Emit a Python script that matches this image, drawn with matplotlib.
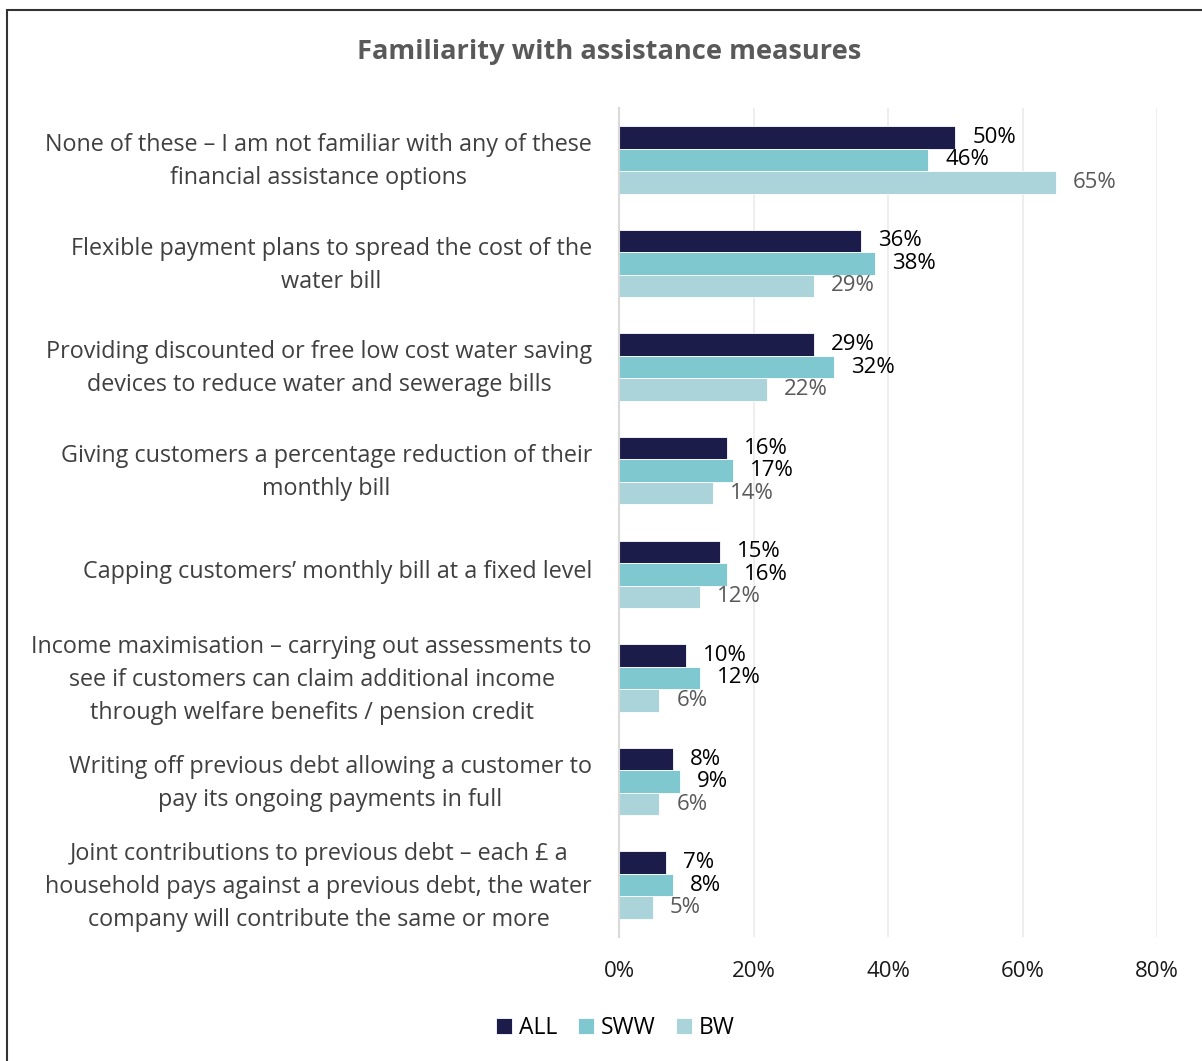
import matplotlib.pyplot as plt
import numpy as np
from matplotlib.patches import Rectangle

plt.rcParams['font.family'] = ['Open Sans', 'DejaVu Sans']

# data
categories = [
    'None of these – I am not familiar with any of these\nfinancial assistance options',
    'Flexible payment plans to spread the cost of the\nwater bill',
    'Providing discounted or free low cost water saving\ndevices to reduce water and sewerage bills',
    'Giving customers a percentage reduction of their\nmonthly bill',
    'Capping customers’ monthly bill at a fixed level',
    'Income maximisation – carrying out assessments to\nsee if customers can claim additional income\nthrough welfare benefits / pension credit',
    'Writing off previous debt allowing a customer to\npay its ongoing payments in full',
    'Joint contributions to previous debt – each £ a\nhousehold pays against a previous debt, the water\ncompany will contribute the same or more',
]
series_names = ['ALL', 'SWW', 'BW']
all_vals = [50, 36, 29, 16, 15, 10, 8, 7]
sww_vals = [46, 38, 32, 17, 16, 12, 9, 8]
bw_vals = [65, 29, 22, 14, 12, 6, 6, 5]
x_ticks = [0, 20, 40, 60, 80]

colors = ['#1B1C4A', '#7FC8D0', '#AAD4DA']
label_colors = ['#000000', '#000000', '#595959']

fig = plt.figure(figsize=(12.02, 10.61), dpi=100)
ax = fig.add_axes([0.515, 0.1169, 0.4476, 0.7813])

n = len(categories)
y = np.arange(n)
bar_h = 0.217
offsets = [-bar_h, 0, bar_h]
for i, vals in enumerate([all_vals, sww_vals, bw_vals]):
    bars = ax.barh(y + offsets[i], vals, bar_h, color=colors[i], label=series_names[i],
                   edgecolor='white', linewidth=0.6, zorder=3)
    for b, v in zip(bars, vals):
        ax.annotate(f'{v}%', (b.get_width(), b.get_y() + b.get_height() / 2),
                    xytext=(17, 0), textcoords='offset pixels',
                    va='center', ha='left', fontsize=16, color=label_colors[i], zorder=4)

ax.set_ylim(n - 0.5, -0.5)
ax.set_xlim(0, 80)
ax.set_xticks(x_ticks)
ax.set_xticklabels([f'{t}%' for t in x_ticks], fontsize=16, color='#1a1a1a')
# category labels sit slightly above the group centre
ax.set_yticks(y - 0.055)
ax.set_yticklabels(categories, fontsize=16.8, color='#404040', linespacing=1.5,
                   multialignment='center')
ax.tick_params(axis='both', length=0)
ax.tick_params(axis='x', pad=17)
ax.tick_params(axis='y', pad=19.5)
for s in ['top', 'right', 'bottom']:
    ax.spines[s].set_visible(False)
ax.spines['left'].set_color('#D9D9D9')
ax.spines['left'].set_linewidth(1.5)
ax.spines['left'].set_zorder(5)
ax.xaxis.grid(True, color='#EBEBEB', linewidth=1.2, zorder=0)
ax.set_axisbelow(True)

fig.text(0.507, 0.951, 'Familiarity with assistance measures', ha='center', va='center',
         fontsize=19.6, fontweight='bold', color='#595959')

fig.legend(loc='center', bbox_to_anchor=(0.512, 0.031), ncol=3, frameon=False,
           fontsize=16.5, handlelength=0.7, handleheight=0.7, handletextpad=0.3,
           columnspacing=0.9)

# outer border (left and top)
fig.patches.append(Rectangle((7 / 1202, -0.1), 1.2, 0.1 + (1061 - 10) / 1061,
                             transform=fig.transFigure, fill=False,
                             edgecolor='#333333', linewidth=1.5))

fig.savefig('out.png', dpi=100)
